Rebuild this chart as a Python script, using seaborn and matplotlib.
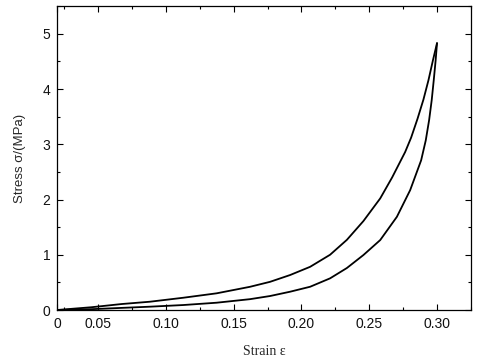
import numpy as np
import pandas as pd
import seaborn as sns
import matplotlib.pyplot as plt
from matplotlib.ticker import MultipleLocator, FixedLocator

# --- 1. DATA ---
# upper branch of the loop, from the origin up to the peak
upper_strain = [0.0197, 0.045, 0.0673, 0.0882, 0.1128, 0.1374, 0.1620, 0.1768, 0.1916,
                0.2064, 0.2211, 0.2335, 0.2457, 0.2581, 0.2669, 0.2765, 0.2809, 0.2856,
                0.2900, 0.2937, 0.2970, 0.300]
upper_stress = [0.0, 0.05, 0.108, 0.15, 0.222, 0.302, 0.42, 0.51, 0.633,
                0.782, 1.0, 1.27, 1.61, 2.02, 2.40, 2.86, 3.12, 3.46,
                3.81, 4.16, 4.52, 4.83]

# lower branch, from the peak back down to the origin
lower_strain = [0.300, 0.2990, 0.2976, 0.2961, 0.2942, 0.2917, 0.2883, 0.2802, 0.2704,
                0.2581, 0.2457, 0.2335, 0.2211, 0.2064, 0.1916, 0.1768, 0.1620, 0.1374,
                0.1128, 0.0882, 0.045, 0.0197]
lower_stress = [4.83, 4.52, 4.16, 3.80, 3.44, 3.07, 2.71, 2.17, 1.687,
                1.266, 0.995, 0.76, 0.573, 0.421, 0.331, 0.253, 0.196, 0.132,
                0.09, 0.06, 0.015, 0.0]

x_tick_pos = [0.0197, 0.05, 0.10, 0.15, 0.20, 0.25, 0.30]
x_tick_labels = ["0", "0.05", "0.10", "0.15", "0.20", "0.25", "0.30"]
y_ticks = [0, 1, 2, 3, 4, 5]

df = pd.concat([
    pd.DataFrame({"strain": upper_strain, "stress": upper_stress, "branch": "upper"}),
    pd.DataFrame({"strain": lower_strain, "stress": lower_stress, "branch": "lower"}),
], ignore_index=True)

# --- 2. STYLE ---
sns.set_theme(style="ticks")
plt.rcParams['font.family'] = ['Liberation Sans', 'DejaVu Sans']

fig = plt.figure(figsize=(4.8, 3.63), dpi=100)
ax = fig.add_axes([0.119, 0.146, 0.862, 0.837])

# --- 3. CURVES ---
for name, part in df.groupby("branch", sort=False):
    sns.lineplot(data=part, x="strain", y="stress", sort=False, estimator=None,
                 color="black", linewidth=1.3, ax=ax)

# --- 4. AXES ---
ax.set_xlim(0.0197, 0.325)
ax.set_ylim(0, 5.5)
ax.xaxis.set_major_locator(FixedLocator(x_tick_pos))
ax.set_xticklabels(x_tick_labels)
ax.xaxis.set_minor_locator(FixedLocator([0.025, 0.075, 0.125, 0.175, 0.225, 0.275, 0.325]))
ax.set_yticks(y_ticks)
ax.yaxis.set_minor_locator(MultipleLocator(0.5))

ax.tick_params(which="both", direction="in", top=True, right=True,
               color="black", width=0.8, labelsize=10, labelcolor="#111111", pad=5)
ax.tick_params(which="major", length=4)
ax.tick_params(which="minor", length=2.5)
for s in ax.spines.values():
    s.set_color("black")
    s.set_linewidth(0.9)

ax.set_xlabel("Strain ε", family=["Liberation Serif", "DejaVu Serif"], fontsize=10, labelpad=10)
ax.set_ylabel("Stress σ/(MPa)", fontsize=9.5, labelpad=12)

fig.savefig("out.png", dpi=100)
